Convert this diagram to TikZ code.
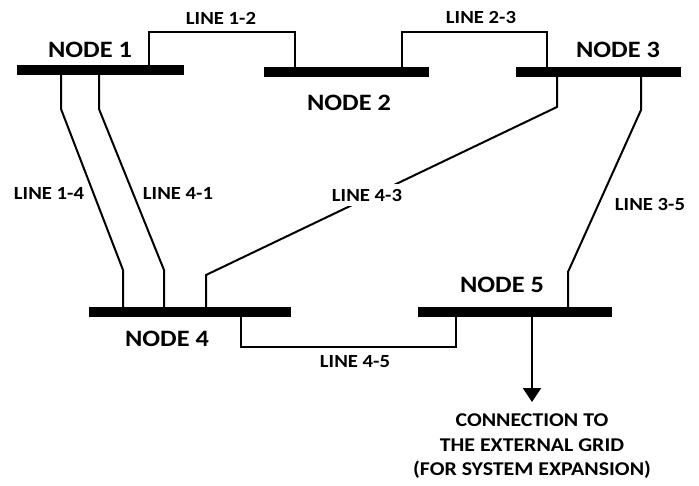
\documentclass[tikz,border=0pt]{standalone}
\usepackage{fontspec}
\newfontfamily\lblfont{Carlito}[FakeStretch=1.12]
\usetikzlibrary{arrows.meta}
\tikzset{
  bus/.style={rectangle, fill=black, inner sep=0pt, minimum height=10pt},
  wire/.style={line width=2pt, line join=miter},
  busname/.style={font=\lblfont\bfseries\fontsize{23.5}{26}\selectfont, inner sep=0pt},
  linename/.style={font=\lblfont\bfseries\fontsize{18.5}{20}\selectfont, inner sep=0pt},
  gridtext/.style={font=\lblfont\bfseries\fontsize{19.5}{24.5}\selectfont, align=center, inner sep=0pt}
}
\begin{document}
\begin{tikzpicture}[x=1pt,y=-1pt]
\useasboundingbox (0,0) rectangle (699,486);

% bus bars
\path
  node[bus, minimum width=167pt] (n1) at (100.5,70) {}
  node[bus, minimum width=165pt] (n2) at (346.5,72) {}
  node[bus, minimum width=165pt] (n3) at (598.5,72) {}
  node[bus, minimum width=202pt] (n4) at (190,312.5) {}
  node[bus, minimum width=194pt] (n5) at (515,312.5) {};

% lines between buses
\draw[wire] (n1.center -| 149,0) -- (149,32) -- (295,32) -- (n2.center -| 295,0);
\draw[wire] (n2.center -| 402,0) -- (402,32) -- (547,32) -- (n3.center -| 547,0);
\draw[wire] (n1.center -| 61,0) -- (61,109) -- (123,270) -- (n4.center -| 123,0);
\draw[wire] (n1.center -| 99,0) -- (99,109) -- (164,270) -- (n4.center -| 164,0);
\draw[wire] (n3.center -| 557,0) -- (557,107) -- (206,275) -- (n4.center -| 206,0);
\draw[wire] (n3.center -| 641,0) -- (641,110) -- (568,272) -- (n5.center -| 568,0);
\draw[wire] (n4.center -| 241,0) -- (241,347) -- (456,347) -- (n5.center -| 456,0);

% bars drawn over the line ends
\path
  node[bus, minimum width=167pt] at (n1) {}
  node[bus, minimum width=165pt] at (n2) {}
  node[bus, minimum width=165pt] at (n3) {}
  node[bus, minimum width=202pt] at (n4) {}
  node[bus, minimum width=194pt] at (n5) {};

% link to the external grid
\coordinate (tip) at (532,402);
\draw[wire, -{Triangle[width=18pt,length=14pt]}] (n5.center -| 532,0) -- (tip);
\node[gridtext, anchor=north] (ext) at (532,414)
  {CONNECTION TO\\THE EXTERNAL GRID\\(FOR SYSTEM EXPANSION)};

% bus names
\node[busname] (b1) at (90,50) {NODE 1};
\node[busname] (b2) at (349,103) {NODE 2};
\node[busname] (b3) at (618,50) {NODE 3};
\node[busname] (b4) at (167,339) {NODE 4};
\node[busname] (b5) at (502,285) {NODE 5};

% line names
\node[linename] (t12) at (221,18) {LINE 1-2};
\node[linename] (t23) at (481,18) {LINE 2-3};
\node[linename] (t14) at (49,193) {LINE 1-4};
\node[linename] (t41) at (178,193) {LINE 4-1};
\node[linename, fill=white, inner sep=5pt] (t43) at (367,195) {LINE 4-3};
\node[linename] (t35) at (650,204) {LINE 3-5};
\node[linename] (t45) at (355,362) {LINE 4-5};
\end{tikzpicture}
\end{document}
